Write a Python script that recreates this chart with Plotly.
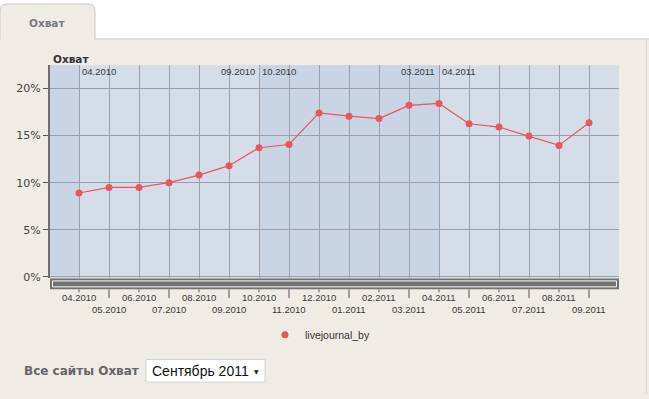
import plotly.graph_objects as go

# ---------------- data ----------------
months = ["04.2010", "05.2010", "06.2010", "07.2010", "08.2010", "09.2010",
          "10.2010", "11.2010", "12.2010", "01.2011", "02.2011", "03.2011",
          "04.2011", "05.2011", "06.2011", "07.2011", "08.2011", "09.2011"]
reach = [8.9, 9.5, 9.5, 10.0, 10.8, 11.8,
         13.7, 14.05, 17.4, 17.05, 16.8, 18.2,
         18.4, 16.25, 15.9, 14.95, 13.95, 16.35]
series_name = "livejournal_by"
y_ticks = [0, 5, 10, 15, 20]
y_tick_labels = ["0%", "5%", "10%", "15%", "20%"]
# shaded (darker) periods: (first month index, last month index)
dark_periods = [(-1, -1), (6, 11)]
# period boundary labels on top of the plot: (label, "start"/"end")
period_labels = [("04.2010", "start"), ("09.2010", "end"), ("10.2010", "start"),
                 ("03.2011", "end"), ("04.2011", "start")]

W, H = 649, 399
def px(x):
    return x / W
def py(y):
    return 1 - y / H

RED = "#ea5560"
BG = "#efece6"
GRID = "#9ba1ac"
LABEL_FONT = dict(family="Liberation Sans, Arial", size=9.5, color="#3a3a3a")

X0, X1 = -0.967, len(months)

fig = go.Figure()
fig.add_trace(go.Scatter(x=months, y=reach, mode="lines",
                         line=dict(color=RED, width=1.2),
                         showlegend=False, hoverinfo="skip"))
fig.add_trace(go.Scatter(x=months, y=reach, mode="markers",
                         marker=dict(color=RED, size=7),
                         name=series_name))

shapes = []
# top white strip and tab
shapes.append(dict(type="rect", xref="paper", yref="paper", x0=0, x1=1,
                   y0=py(39), y1=1, fillcolor="white", line=dict(width=0), layer="below"))
tab_path = (f"M {px(0)},{py(40)} L {px(0)},{py(11)} Q {px(0)},{py(4)} {px(7)},{py(4)} "
            f"L {px(88)},{py(4)} Q {px(95)},{py(4)} {px(95)},{py(11)} L {px(95)},{py(40)}")
shapes.append(dict(type="path", xref="paper", yref="paper", path=tab_path,
                   fillcolor=BG, line=dict(color="#cdc9c1", width=1), layer="below"))
shapes.append(dict(type="line", xref="paper", yref="paper", x0=px(95), x1=1,
                   y0=py(39.5), y1=py(39.5), line=dict(color="#d3cfc8", width=1), layer="below"))
shapes.append(dict(type="line", xref="paper", yref="paper", x0=px(646.5), x1=px(646.5),
                   y0=py(39.5), y1=0, line=dict(color="#dcd8d1", width=1), layer="below"))

# darker background bands
for a, b in dark_periods:
    shapes.append(dict(type="rect", xref="x", yref="y domain",
                       x0=max(a, X0), x1=b + 1, y0=0, y1=1,
                       fillcolor="#c9d4e4", line=dict(width=0), layer="below"))

# scrollbar under the plot
shapes.append(dict(type="rect", xref="paper", yref="paper", x0=px(50), x1=px(619),
                   y0=py(293), y1=py(282), fillcolor="#717171", line=dict(width=0)))
shapes.append(dict(type="rect", xref="paper", yref="paper", x0=px(52.5), x1=px(616.5),
                   y0=py(290.5), y1=py(284.5), fillcolor="rgba(0,0,0,0)",
                   line=dict(color="white", width=1)))

# x ticks below scrollbar (numeric category index positions)
for i, m in enumerate(months):
    ln = 9 if i % 2 == 1 else 3
    shapes.append(dict(type="line", xref="x", yref="paper", x0=i, x1=i,
                       y0=py(293), y1=py(293 + ln), line=dict(color="#555", width=1)))

# select box
shapes.append(dict(type="rect", xref="paper", yref="paper", x0=px(146), x1=px(265),
                   y0=py(387), y1=py(364), fillcolor="white",
                   line=dict(color="#d2d2d2", width=1)))

annotations = []
# x tick labels in two rows
for i, m in enumerate(months):
    annotations.append(dict(x=i, xref="x", yref="paper",
                            y=py(301.5 if i % 2 == 0 else 313.5), yanchor="middle",
                            text=m, showarrow=False, font=LABEL_FONT, xanchor="center"))
# period labels on top of plot
for lab, side in period_labels:
    idx = months.index(lab)
    if side == "start":
        annotations.append(dict(x=idx, xref="x", yref="paper", y=py(72), yanchor="middle",
                                text=lab, showarrow=False, font=LABEL_FONT,
                                xanchor="left", xshift=1))
    else:
        annotations.append(dict(x=idx + 1, xref="x", yref="paper", y=py(72), yanchor="middle",
                                text=lab, showarrow=False, font=LABEL_FONT,
                                xanchor="right", xshift=-2))

annotations += [
    dict(x=px(47), y=py(23), xref="paper", yref="paper", text="<b>Охват</b>",
         showarrow=False, xanchor="center", yanchor="middle",
         font=dict(family="DejaVu Sans", size=10.5, color="#7a7a7a")),
    dict(x=px(51), y=py(60), xref="paper", yref="paper", text="<b>Охват</b>",
         showarrow=False, xanchor="left", yanchor="middle",
         font=dict(family="DejaVu Sans", size=10.5, color="#333")),
    dict(x=px(22), y=py(376), xref="paper", yref="paper", text="<b>Все сайты Охват</b>",
         showarrow=False, xanchor="left", yanchor="middle",
         font=dict(family="DejaVu Sans", size=12, color="#666")),
    dict(x=px(150), y=py(376), xref="paper", yref="paper", text="Сентябрь 2011",
         showarrow=False, xanchor="left", yanchor="middle",
         font=dict(family="Liberation Sans, Arial", size=14, color="#111")),
    dict(x=px(256), y=py(376), xref="paper", yref="paper", text="▼",
         showarrow=False, xanchor="center", yanchor="middle",
         font=dict(family="DejaVu Sans", size=6, color="#222")),
]

fig.update_layout(
    width=W, height=H, margin=dict(l=0, r=0, t=0, b=0),
    paper_bgcolor=BG, plot_bgcolor="#d5dde9",
    xaxis=dict(type="category", categoryorder="array", categoryarray=months,
               range=[X0, X1], domain=[px(50), px(619)],
               showgrid=True, gridcolor=GRID, gridwidth=1,
               showticklabels=False, ticks="", showline=False, zeroline=False),
    yaxis=dict(range=[-0.16, 22.46], domain=[py(282), py(66)],
               tickmode="array", tickvals=y_ticks, ticktext=y_tick_labels,
               ticks="outside", ticklen=5,
               tickcolor="#555", tickwidth=1,
               tickfont=dict(family="DejaVu Sans", size=11, color="#444"),
               showgrid=True, gridcolor=GRID, gridwidth=1, zeroline=False,
               showline=True, linecolor="#6f6f6f", linewidth=2),
    showlegend=True,
    legend=dict(orientation="h", x=px(265), xanchor="left", y=py(339), yanchor="middle",
                bgcolor="rgba(0,0,0,0)", font=dict(family="Liberation Sans, Arial",
                                                   size=10.5, color="#333")),
    shapes=shapes, annotations=annotations,
)

fig.write_html("out.html")
